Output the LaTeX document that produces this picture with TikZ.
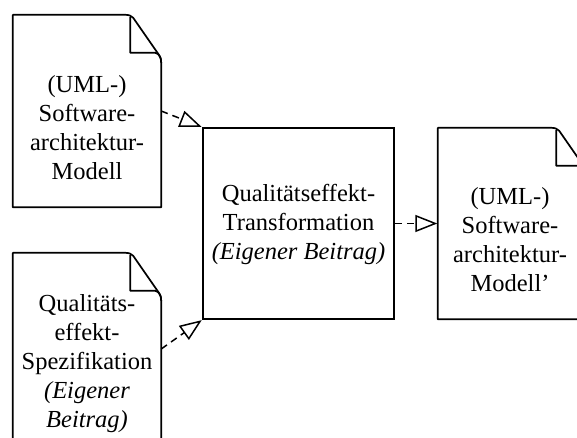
\documentclass[tikz,border=0pt]{standalone}
\usepackage{fontspec}
\setmainfont{Liberation Serif}
\usetikzlibrary{arrows.meta,calc}
\tikzset{
  docline/.style={line width=1.7pt, line join=round},
  docarea/.style={draw=none, inner sep=0pt},
  procbox/.style={draw, line width=1.7pt, inner sep=0pt, minimum width=191pt, minimum height=191pt},
  lbl/.style={align=center, inner sep=0pt, font=\fontsize{24.5}{29}\selectfont},
  conn/.style={line width=1.5pt, dash pattern=on 7pt off 5pt, -{Triangle[open, length=22pt, width=17pt]}, shorten >=0.5pt}
}
\newcommand{\drawdoc}[1]{%
  \draw[docline] (#1.north west) -- ($(#1.north east)+(-36,0)$)
    .. controls ($(#1.north east)+(-32,0)$) and ($(#1.north east)+(-30,1)$) .. ($(#1.north east)+(-28,3)$)
    -- ($(#1.north east)+(-3,39)$)
    .. controls ($(#1.north east)+(-1,42)$) and ($(#1.north east)+(0,44)$) .. ($(#1.north east)+(0,48)$)
    -- (#1.south east) -- (#1.south west) -- cycle;
  \draw[docline] ($(#1.north east)+(-31,2)$) -- ($(#1.north east)+(-31,38)$) -- ($(#1.north east)+(-6,38)$)
    .. controls ($(#1.north east)+(-2,39)$) and ($(#1.north east)+(0,42)$) .. ($(#1.north east)+(0,48)$);
}
\begin{document}
\begin{tikzpicture}[x=1pt, y=-1pt]
\useasboundingbox (0,0) rectangle (577,437);
\clip (0,0) rectangle (577,437);
\node[docarea, minimum width=148pt, minimum height=192pt] (d1) at (87,111) {};
\node[docarea, minimum width=148pt, minimum height=192pt] (d2) at (87,349) {};
\node[docarea, minimum width=149pt, minimum height=191pt] (d3) at (512.5,223.5) {};
\node[procbox] (t) at (298.5,223.5) {};
\drawdoc{d1}
\drawdoc{d2}
\drawdoc{d3}
\node[lbl] (d1text) at (87,127.5) {(UML-)\\Software-\\architektur-\\Modell};
\node[lbl] (d2text) at (87,364) {Qualitäts-\\effekt-\\Spezifikation\\\textit{(Eigener}\\\textit{Beitrag)}};
\node[lbl] (ttext) at (298.5,224) {Qualitätseffekt-\\Transformation\\\textit{(Eigener Beitrag)}};
\node[lbl] (d3text) at (510,239.5) {(UML-)\\Software-\\architektur-\\Modell’};
\draw[conn] (d1.east) -- (t.north west);
\draw[conn] (d2.east) -- (t.south west);
\draw[conn] (t.east) -- (d3.west);
\end{tikzpicture}
\end{document}
